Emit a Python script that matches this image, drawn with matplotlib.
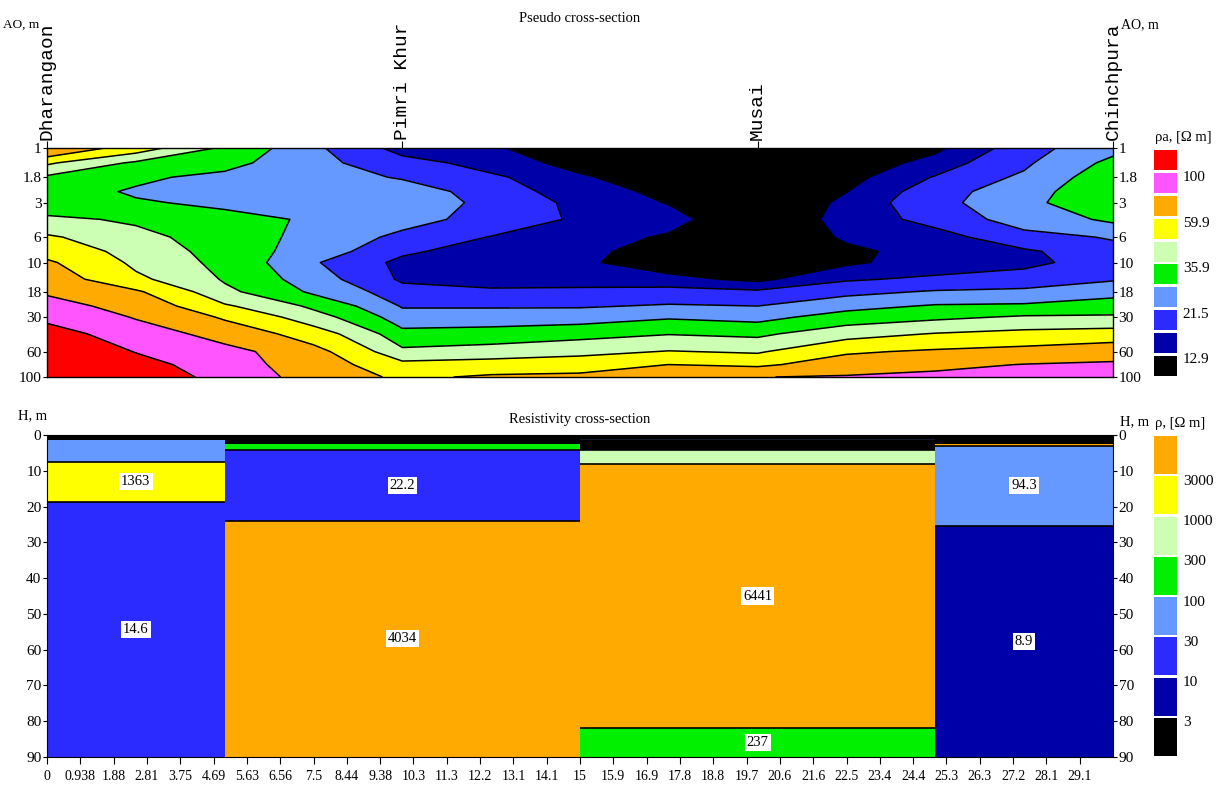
import matplotlib
matplotlib.use("Agg")
import matplotlib.pyplot as plt
import numpy as np
from matplotlib.colors import ListedColormap, BoundaryNorm
from matplotlib.ticker import NullLocator

plt.rcParams['font.family'] = ['Liberation Serif', 'DejaVu Serif']

# ---- pseudo cross-section (apparent resistivity) ----
stations = ["Dharangaon", "Pimri Khur", "Musai", "Chinchpura"]
station_x = [0, 10, 20, 30]
grid_x = [0, 2.5, 5, 7.5, 10, 12.5, 15, 17.5, 20, 22.5, 25, 27.5, 30]
grid_ao = [1, 1.35, 1.8, 2.4, 3, 4.2, 6, 8, 10, 14, 18, 24, 30, 42, 60, 78, 100]
ao_ticks = [1, 1.8, 3, 6, 10, 18, 30, 60, 100]
ao_labels = ["1", "1.8", "3", "6", "10", "18", "30", "60", "100"]

# one list per column (top -> bottom)
rho_a_cols = [
    [75, 48, 34, 31, 30, 38, 48, 55, 62, 68, 75, 85, 95, 110, 125, 135, 150],
    [52, 34, 29, 27, 28.5, 34.5, 39, 42, 44, 49, 62, 70, 76, 88, 99, 110, 120],
    [34, 30, 26, 24, 26.5, 30, 31, 32, 33, 35, 38, 48, 58, 70, 84, 86, 90],
    [22.5, 23, 24, 25, 26, 27, 26, 24.5, 22, 24, 26.5, 34, 40, 53, 65, 68, 70],
    [15, 18.5, 21, 24.5, 25, 23.5, 20, 17.5, 15.5, 16, 18.5, 21, 24, 30, 38, 50, 57],
    [13.5, 15, 17.5, 19, 20, 19.5, 16.5, 14.5, 14, 15, 17.5, 21, 24, 31, 40, 52, 62],
    [10, 11.5, 13.5, 14.5, 15.5, 16, 15, 14, 13.5, 14.5, 18, 21, 24.5, 33, 43, 54, 63],
    [6, 8, 10, 12, 12.7, 14.5, 12.3, 11, 11, 14, 18.5, 22, 27, 35.5, 47, 60, 70],
    [4, 5, 6, 7, 8, 9, 9, 9, 9.5, 12, 17.5, 21.5, 25.5, 34, 45, 57, 77],
    [8, 10, 11.5, 12.8, 14, 14.5, 13.5, 12, 12.3, 16.2, 20, 25.5, 31, 42, 58, 68, 79],
    [12, 14.5, 17, 19, 19.5, 18, 15, 14.5, 14.5, 17.5, 22, 28.5, 34, 47, 62, 73, 82],
    [19, 20.5, 22.5, 25, 26, 24, 19.5, 16, 15.5, 19, 22.5, 29, 37, 50, 65, 78, 86],
    [26, 29.5, 32, 33, 33, 29, 22, 19.5, 19, 21, 25, 32, 37, 52, 70, 80, 88],
]
levels_a = [12.9, 16.7, 21.5, 27.8, 35.9, 46.4, 59.9, 77.4, 100]
legend_a_labels = ["100", "59.9", "35.9", "21.5", "12.9"]
colors_a = ['#000000', '#0000a8', '#2b2bff', '#6699ff', '#00f000',
            '#ccffb3', '#ffff00', '#ffaa00', '#ff55ff', '#ff0000']

# ---- resistivity cross-section (layered model) ----
seg_left = [0, 5, 15, 25]
seg_right = [5, 15, 25, 30]
layer_rho = [
    [2, 50, 1363, 14.6],
    [2, 150, 22.2, 4034],
    [2, 50, 2, 500, 6441, 237],
    [2, 4000, 94.3, 8.9],
]
layer_tops = [
    [0, 1.4, 7.5, 18.7],
    [0, 2.5, 4.3, 24],
    [0, 1.0, 1.4, 4.2, 8, 82],
    [0, 2.5, 3.0, 25.4],
]
h_max = 90
x_ticks = [i * 0.9375 for i in range(32)]
x_labels = ["0", "0.938", "1.88", "2.81", "3.75", "4.69", "5.63", "6.56", "7.5",
            "8.44", "9.38", "10.3", "11.3", "12.2", "13.1", "14.1", "15", "15.9",
            "16.9", "17.8", "18.8", "19.7", "20.6", "21.6", "22.5", "23.4", "24.4",
            "25.3", "26.3", "27.2", "28.1", "29.1"]
levels_r = [3, 10, 30, 100, 300, 1000, 3000]
legend_r_labels = ["3000", "1000", "300", "100", "30", "10", "3"]
colors_r = ['#000000', '#0000a8', '#2b2bff', '#6699ff', '#00f000',
            '#ccffb3', '#ffff00', '#ffaa00']

W, H = 1219, 796
fig = plt.figure(figsize=(W / 100, H / 100), dpi=100)

def box(l, t, r, b):
    return [l / W, 1 - b / H, (r - l) / W, (b - t) / H]

# ---------- top panel ----------
ax1 = fig.add_axes(box(47, 148, 1113, 377))
X, Y = np.meshgrid(grid_x, grid_ao)
Z = np.array(rho_a_cols).T
bounds_a = [0] + levels_a + [1e6]
ax1.contourf(X, Y, Z, levels=bounds_a, colors=colors_a)
ax1.contour(X, Y, Z, levels=levels_a, colors='k', linewidths=1.1)
ax1.set_yscale('log')
ax1.set_ylim(100, 1)
ax1.set_xlim(0, 30)
ax1.yaxis.set_minor_locator(NullLocator())
ax1.set_yticks(ao_ticks)
ax1.set_yticklabels(ao_labels)
ax1.tick_params(axis='y', which='both', left=True, right=True, labelleft=True,
                labelright=True, direction='out', length=3, pad=1, labelsize=11)
ax1.set_xticks(station_x)
ax1.set_xticklabels(stations, rotation=90, family='Liberation Mono', fontsize=14)
ax1.xaxis.tick_top()
ax1.tick_params(axis='x', direction='out', length=5, pad=1)
for s in ax1.spines.values():
    s.set_linewidth(1)

fig.text(580 / W, 1 - 18 / H, "Pseudo cross-section", ha='center', va='center', fontsize=10.5)
fig.text(3 / W, 1 - 25 / H, "AO, m", ha='left', va='center', fontsize=9.5)
fig.text(1121 / W, 1 - 25 / H, "AO, m", ha='left', va='center', fontsize=10)

# legend top
lg1 = fig.add_axes(box(1154, 149, 1177, 377))
n1 = len(colors_a)
lg1.bar([0] * n1, [0.88] * n1, width=1, bottom=[i + 0.06 for i in range(n1)],
        color=colors_a, align='edge')
lg1.set_xlim(0, 1)
lg1.set_ylim(0, n1)
lg1.axis('off')
for k, lab in enumerate(legend_a_labels):
    yb = n1 - 1 - 2 * k
    lg1.text(1.25, yb - 0.25, lab, transform=lg1.get_yaxis_transform(),
             ha='left', va='center', fontsize=11)
fig.text(1155 / W, 1 - 137 / H, "ρa, [Ω m]", ha='left', va='center', fontsize=10.5)

# ---------- bottom panel ----------
ax2 = fig.add_axes(box(47, 435, 1113, 757))
cmap_r = ListedColormap(colors_r)
norm_r = BoundaryNorm([0] + levels_r + [1e6], cmap_r.N)
for s in range(len(seg_left)):
    tops = layer_tops[s]
    bots = tops[1:] + [h_max]
    w = seg_right[s] - seg_left[s]
    for rho, t, b in zip(layer_rho[s], tops, bots):
        ax2.bar(seg_left[s], b - t, width=w, bottom=t, align='edge',
                color=cmap_r(norm_r(rho)), linewidth=0)
        if b - t > 7:
            ax2.text(seg_left[s] + w / 2, (t + b) / 2, "{:g}".format(rho),
                     ha='center', va='center', fontsize=10.5,
                     bbox=dict(facecolor='white', edgecolor='none', pad=1.5))
    ax2.hlines(tops[2:], seg_left[s], seg_right[s], colors='k', linewidth=1.2)
ax2.set_xlim(0, 30)
ax2.set_ylim(h_max, 0)
ax2.set_yticks(range(0, 91, 10))
ax2.tick_params(axis='y', left=True, right=True, labelleft=True, labelright=True,
                direction='out', length=3, pad=1, labelsize=11)
ax2.set_xticks(x_ticks)
ax2.set_xticklabels(x_labels)
ax2.tick_params(axis='x', direction='out', length=5, pad=4, labelsize=10)

fig.text(580 / W, 1 - 419 / H, "Resistivity cross-section", ha='center', va='center', fontsize=10.5)
fig.text(18 / W, 1 - 416 / H, "H, m", ha='left', va='center', fontsize=10.5)
fig.text(1120 / W, 1 - 422 / H, "H, m", ha='left', va='center', fontsize=10.5)

# legend bottom
lg2 = fig.add_axes(box(1154, 435, 1177, 757))
n2 = len(colors_r)
lg2.bar([0] * n2, [0.94] * n2, width=1, bottom=[i + 0.03 for i in range(n2)],
        color=colors_r, align='edge')
lg2.set_xlim(0, 1)
lg2.set_ylim(0, n2)
lg2.axis('off')
for k, lab in enumerate(legend_r_labels):
    yb = n2 - 1 - k
    lg2.text(1.25, yb - 0.15, lab, transform=lg2.get_yaxis_transform(),
             ha='left', va='center', fontsize=11)
fig.text(1155 / W, 1 - 424 / H, "ρ, [Ω m]", ha='left', va='center', fontsize=10.5)

fig.savefig("out.png", dpi=100)
